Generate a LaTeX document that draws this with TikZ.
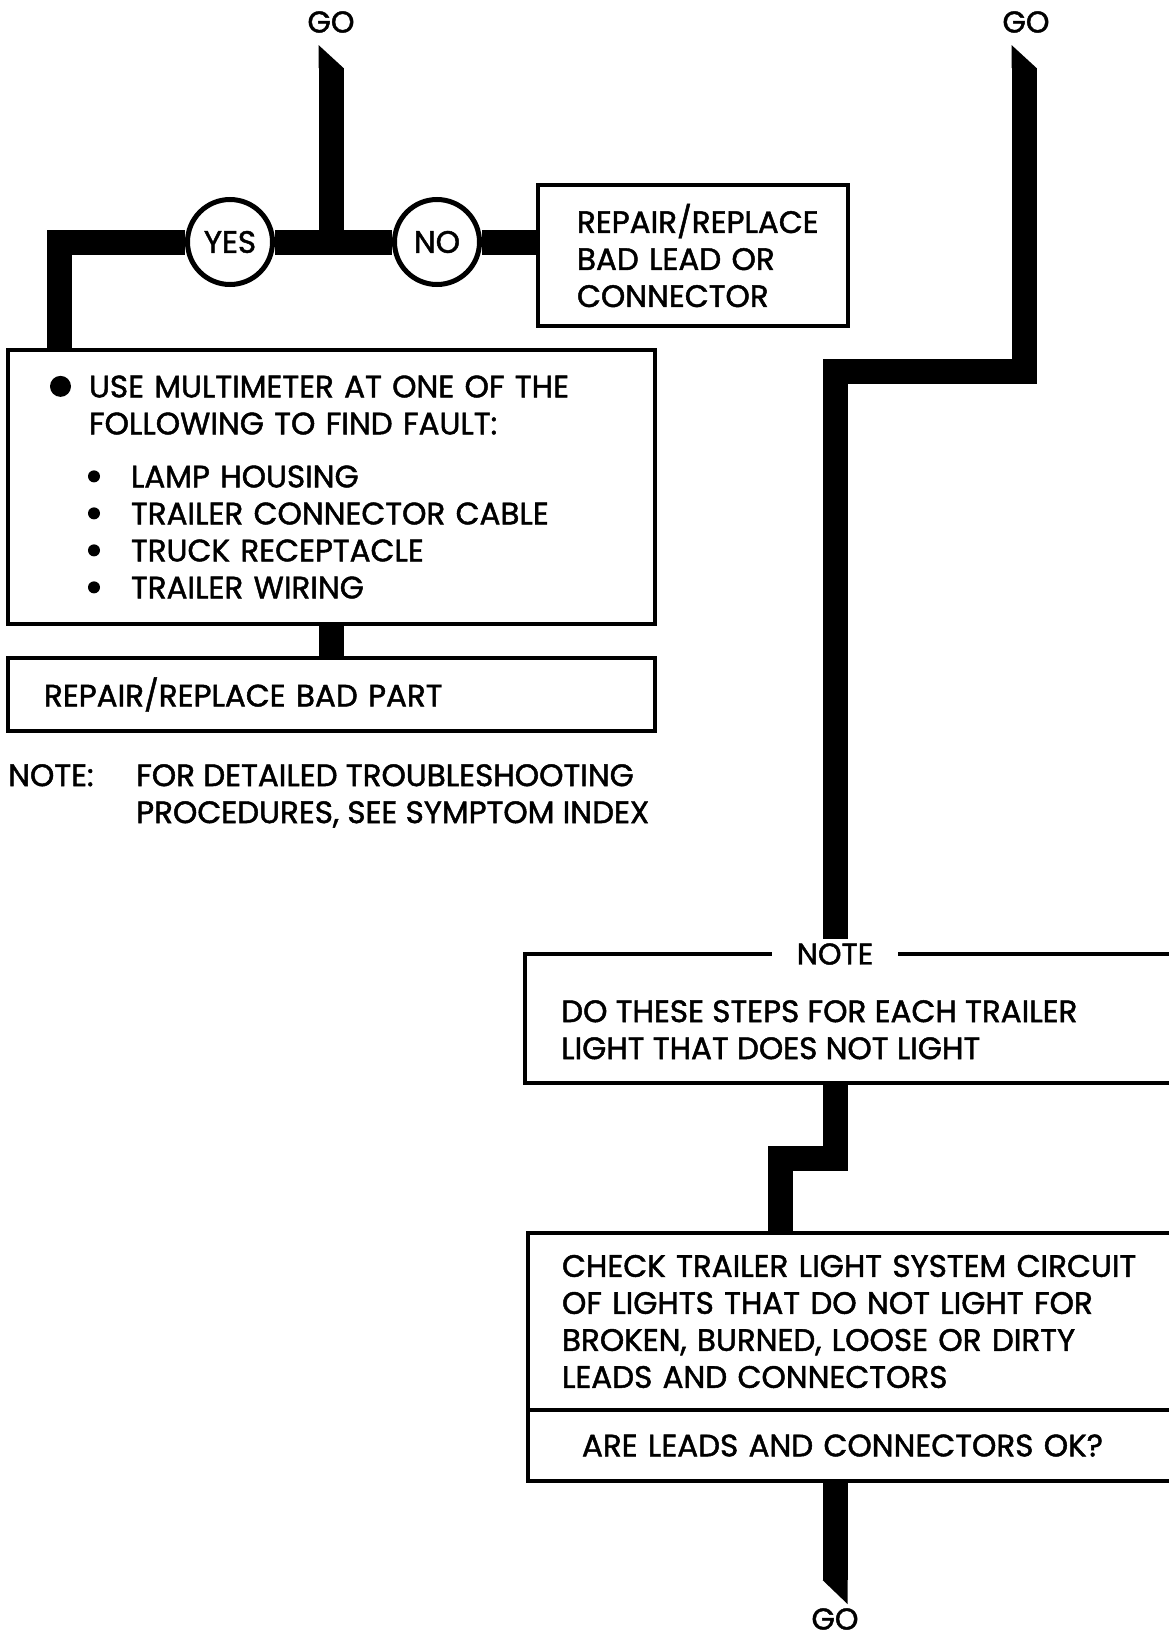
\documentclass[tikz,border=0pt]{standalone}
\usepackage{fontspec}
\setmainfont{Poppins}[FakeBold=1.5,AutoFakeBold=1.5]
\usetikzlibrary{positioning}

\newcommand{\bigbullet}{\tikz[baseline={(0pt,-11pt)}]\fill (0pt,0pt) circle (10.5pt);}
\newcommand{\smallbullet}{\tikz[baseline={(0pt,-11pt)}]\fill (0pt,0pt) circle (6pt);}

\begin{document}
\begin{tikzpicture}[
  x=1pt,y=-1pt,
  font=\fontsize{31}{37}\selectfont,
  flow/.style={line width=25pt,line join=miter},
  box/.style={draw,line width=4pt,anchor=north west,align=left,inner ysep=0pt,outer sep=0pt},
  answer/.style={circle,draw,line width=5pt,fill=white,minimum size=85pt,inner sep=0pt},
  golabel/.style={font=\fontsize{30}{34}\selectfont,inner sep=0pt},
  plain/.style={anchor=north west,inner sep=0pt,align=left}
]
\clip (0,0) rectangle (1169,1638);
\fill[white] (0,0) rectangle (1169,1638);

% entry and exit labels
\node[golabel] (goL) at (331,22) {GO};
\node[golabel] (goR) at (1026,22) {GO};
\node[golabel] (goB) at (835,1619) {GO};
\coordinate (tipL) at (331,68);
\coordinate (tipR) at (1024,68);
\coordinate (tipB) at (835,1580);
\coordinate (jogR) at (835,371);
\coordinate (jogC) at (780.5,1158.5);

% left branch
\node[answer] (yes) at (230,242) {YES};
\node[answer] (no) at (437,242) {NO};
\node[box,minimum width=310pt,minimum height=141pt,text width=232pt,inner xsep=39pt]
  (lead) at (538,185) {REPAIR/REPLACE\\BAD LEAD OR\\CONNECTOR};
\node[box,minimum width=647pt,minimum height=274pt,text width=563pt,inner xsep=42pt]
  (multi) at (8,350)
  {\makebox[39pt][l]{\bigbullet}USE MULTIMETER AT ONE OF THE\\
   \hspace*{39pt}FOLLOWING TO FIND FAULT:\\[16pt]
   \hspace*{38pt}\makebox[43pt][l]{\smallbullet}LAMP HOUSING\\
   \hspace*{38pt}\makebox[43pt][l]{\smallbullet}TRAILER CONNECTOR CABLE\\
   \hspace*{38pt}\makebox[43pt][l]{\smallbullet}TRUCK RECEPTACLE\\
   \hspace*{38pt}\makebox[43pt][l]{\smallbullet}TRAILER WIRING};
\node[box,minimum width=647pt,minimum height=73pt,text width=575pt,inner xsep=36pt]
  (part) at (8,658) {REPAIR/REPLACE BAD PART};
\node[plain] (notetxt) at (8,764)
  {\makebox[128pt][l]{NOTE:}FOR DETAILED TROUBLESHOOTING\\
   \hspace*{128pt}PROCEDURES, SEE SYMPTOM INDEX};

% right branch
\node[box,minimum width=680pt,minimum height=129pt] (notebox) at (525,954) {};
\node[plain] (stepstxt) at (561,1000)
  {DO THESE STEPS FOR EACH TRAILER\\LIGHT THAT DOES NOT LIGHT};
\node[golabel,fill=white,inner xsep=25pt,inner ysep=4pt] (notelbl)
  at (835,0 |- notebox.north) {NOTE};
\node[box,minimum width=680pt,minimum height=177pt,text width=612pt,inner xsep=34pt]
  (check) at (528,1233)
  {CHECK TRAILER LIGHT SYSTEM CIRCUIT\\OF LIGHTS THAT DO NOT LIGHT FOR\\
   BROKEN, BURNED, LOOSE OR DIRTY\\LEADS AND CONNECTORS};
\node[box,minimum width=680pt,minimum height=71pt,text width=572pt,inner xsep=54pt]
  (ask) at (check.south west) {ARE LEADS AND CONNECTORS OK?};

% flow lines
\draw[flow] (tipL) -- (tipL |- yes);
\draw[flow] (yes) -- (no);
\draw[flow] (no) -- (no -| lead.west);
\draw[flow] (yes) -| ([xshift=51pt]multi.north west);
\draw[flow] (multi) -- (part);
\draw[flow] (tipR) |- (jogR) -- (notelbl.north);
\draw[flow] (notelbl |- notebox.south) |- (jogC) -- (jogC |- check.north);
\draw[flow] (ask.south -| tipB) -- (tipB);
\fill ([xshift=-12.5pt]tipL) -- ++(0,-23) -- ++(25,23) -- cycle;
\fill ([xshift=-12.5pt]tipR) -- ++(0,-23) -- ++(25,23) -- cycle;
\fill ([xshift=-12.5pt]tipB) -- ++(25,0) -- ++(0,24) -- cycle;
\end{tikzpicture}
\end{document}
